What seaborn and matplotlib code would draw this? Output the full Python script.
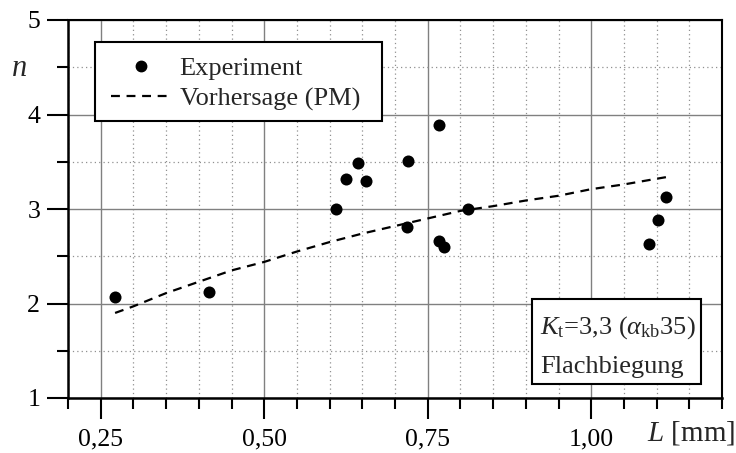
import numpy as np
import pandas as pd
import matplotlib
matplotlib.use("Agg")
import matplotlib.pyplot as plt
from matplotlib.ticker import MultipleLocator
from matplotlib.lines import Line2D
from matplotlib.patches import Rectangle
import seaborn as sns

# Experimental data
exp_L = [0.272, 0.416, 0.610, 0.625, 0.643, 0.656, 0.720, 0.718, 0.768, 0.768, 0.775, 0.811, 1.089, 1.102, 1.115]
exp_n = [2.07, 2.12, 3.00, 3.32, 3.49, 3.30, 3.51, 2.81, 3.89, 2.66, 2.60, 3.00, 2.63, 2.88, 3.13]

# Prediction (PM)
pm_L = [0.272, 0.30, 0.35, 0.40, 0.45, 0.50, 0.55, 0.60, 0.65, 0.70, 0.75, 0.80, 0.85, 0.90, 0.95, 1.00, 1.05, 1.10, 1.117]
pm_n = [1.90, 1.97, 2.11, 2.23, 2.35, 2.44, 2.55, 2.65, 2.74, 2.82, 2.90, 2.98, 3.03, 3.09, 3.14, 3.21, 3.26, 3.32, 3.34]

x_ticks = [0.25, 0.50, 0.75, 1.00]
x_tick_labels = ["0,25", "0,50", "0,75", "1,00"]
y_ticks = [1, 2, 3, 4, 5]

sns.set_style("ticks")
plt.rcParams['font.family'] = ['Liberation Serif', 'DejaVu Serif']
plt.rcParams['mathtext.fontset'] = 'custom'
plt.rcParams['mathtext.rm'] = 'Liberation Serif'
plt.rcParams['mathtext.it'] = 'Liberation Serif:italic'

W, H = 736, 453
AX_L, AX_R, AX_T, AX_B = 68, 722, 20, 398

fig = plt.figure(figsize=(W/100, H/100), dpi=100)
ax = fig.add_axes([AX_L/W, 1-AX_B/H, (AX_R-AX_L)/W, (AX_B-AX_T)/H])

def axfrac(px, py):
    return ((px-AX_L)/(AX_R-AX_L), (AX_B-py)/(AX_B-AX_T))

df_exp = pd.DataFrame({"L": exp_L, "n": exp_n})
df_pm = pd.DataFrame({"L": pm_L, "n": pm_n})

ax.set_xlim(0.2, 1.2)
ax.set_ylim(1, 5)

ax.xaxis.set_major_locator(MultipleLocator(0.25))
ax.xaxis.set_minor_locator(MultipleLocator(0.05))
ax.yaxis.set_major_locator(MultipleLocator(1))
ax.yaxis.set_minor_locator(MultipleLocator(0.5))
ax.grid(which='major', color='#808080', linestyle='-', linewidth=1.0, zorder=0)
ax.grid(which='minor', color='#909090', linestyle=(0, (1, 2.5)), linewidth=0.9, zorder=0)
ax.set_axisbelow(True)

sns.lineplot(data=df_pm, x="L", y="n", ax=ax, color='black', linewidth=1.6,
             linestyle=(0, (4, 3)), zorder=3, legend=False)
sns.scatterplot(data=df_exp, x="L", y="n", ax=ax, color='black', s=75,
                edgecolor='black', linewidth=0, zorder=4, legend=False)

ax.set_xlabel("")
ax.set_ylabel("")
ax.set_xticks(x_ticks)
ax.set_xticklabels(x_tick_labels)
ax.set_yticks(y_ticks)
ax.set_yticklabels([str(v) for v in y_ticks])

ax.tick_params(axis='both', which='major', direction='out', length=15, width=1.5,
               labelsize=18.5, colors='black', pad=5)
ax.tick_params(axis='both', which='minor', direction='out', length=8, width=1.5, colors='black')
ax.tick_params(axis='x', which='major', pad=7)

for side in ['left', 'bottom', 'top', 'right']:
    ax.spines[side].set_visible(True)
    ax.spines[side].set_color('black')
ax.spines['left'].set_linewidth(1.8)
ax.spines['bottom'].set_linewidth(1.8)
ax.spines['top'].set_linewidth(1.5)
ax.spines['right'].set_linewidth(1.5)

# axis labels
fig.text(20/W, 1-68/H, "n", fontsize=22, style='italic', ha='center', va='center')
fig.text(735/W, 1-433/H, r"$L$ [mm]", fontsize=21, ha='right', va='center')

# legend box
x0, y0 = axfrac(95, 121)
x1, y1 = axfrac(382, 42)
ax.add_patch(Rectangle((x0, y0), x1-x0, y1-y0, transform=ax.transAxes,
                       facecolor='white', edgecolor='black', linewidth=1.5, zorder=5))
handles = [Line2D([], [], marker='o', color='black', linestyle='none', markersize=7.5),
           Line2D([], [], color='black', linestyle=(0, (4, 3)), linewidth=1.6)]
leg = ax.legend(handles, ["Experiment", "Vorhersage (PM)"], loc='upper left',
                bbox_to_anchor=axfrac(111, 57), borderaxespad=0,
                fontsize=19, frameon=False, handlelength=2.3, handletextpad=0.3,
                borderpad=0, labelspacing=0.25)
leg.set_zorder(6)

# annotation box
x0, y0 = axfrac(532, 384)
x1, y1 = axfrac(701, 299)
ax.add_patch(Rectangle((x0, y0), x1-x0, y1-y0, transform=ax.transAxes,
                       facecolor='white', edgecolor='black', linewidth=1.5, zorder=5))
tx, ty = axfrac(540, 328)
ax.text(tx, ty, r"$K_\mathrm{t}$=3,3 ($\alpha_\mathrm{kb}$35)",
        transform=ax.transAxes, ha='left', va='center', fontsize=19, zorder=6)
tx, ty = axfrac(540, 367)
ax.text(tx, ty, "Flachbiegung",
        transform=ax.transAxes, ha='left', va='center', fontsize=19, zorder=6)

fig.savefig("out.png", dpi=100)
